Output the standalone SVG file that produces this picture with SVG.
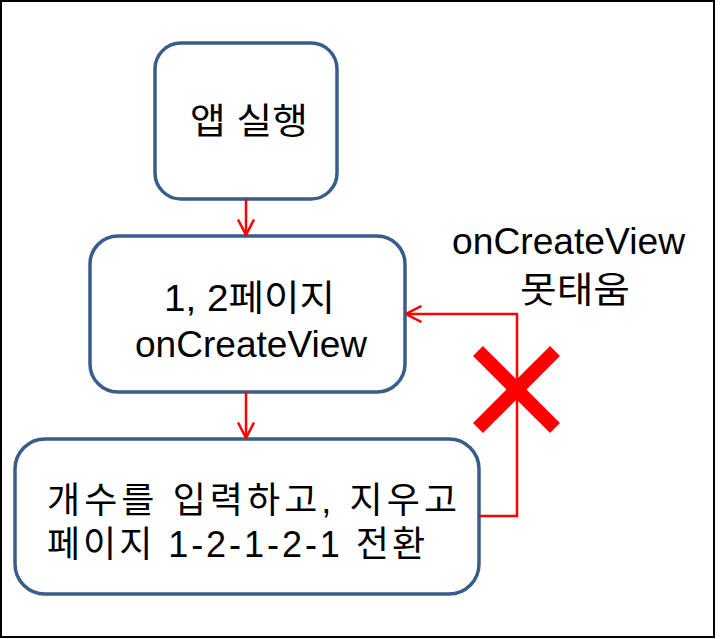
<svg xmlns="http://www.w3.org/2000/svg" width="720" height="639" viewBox="0 0 720 639">
<style>
.box{fill:#fff;stroke:#385D8A;stroke-width:3.5}
.t{font-family:"Liberation Sans","Noto Sans CJK KR",sans-serif;font-size:36px;fill:#000}
.c{fill:none;stroke:#FF0000;stroke-width:2.5}
</style>
<defs>
<marker id="ah" viewBox="0 0 18 18" refX="16.5" refY="9" markerWidth="18" markerHeight="18" markerUnits="userSpaceOnUse" orient="auto">
<path d="M1,1 L16.5,9 L1,17" fill="none" stroke="#FF0000" stroke-width="2.5"/>
</marker>
</defs>
<rect x="0" y="0" width="720" height="639" fill="#fff"/>
<rect x="1" y="1" width="713" height="636" fill="none" stroke="#000" stroke-width="2"/>
<g id="n1">
<rect class="box" x="155" y="43" width="182" height="156" rx="26"/>
<text class="t" x="190" y="134" textLength="118" lengthAdjust="spacingAndGlyphs">앱 실행</text>
</g>
<g id="n2">
<rect class="box" x="90" y="236" width="315" height="156" rx="28"/>
<text class="t" x="164" y="311" textLength="171" lengthAdjust="spacingAndGlyphs">1, 2페이지</text>
<text class="t" x="135" y="357" textLength="232" lengthAdjust="spacingAndGlyphs">onCreateView</text>
</g>
<g id="n3">
<rect class="box" x="15" y="439" width="464" height="155" rx="30"/>
<text class="t" x="47" y="513" textLength="410" lengthAdjust="spacing">개수를 입력하고, 지우고</text>
<text class="t" x="47" y="557" textLength="378" lengthAdjust="spacing">페이지 1-2-1-2-1 전환</text>
</g>
<g id="label">
<text class="t" x="452" y="254" textLength="233" lengthAdjust="spacingAndGlyphs">onCreateView</text>
<text class="t" x="520" y="303" textLength="110" lengthAdjust="spacingAndGlyphs">못태움</text>
</g>
<g id="connectors">
<line class="c" x1="246" y1="199" x2="246" y2="235" marker-end="url(#ah)"/>
<line class="c" x1="246" y1="392" x2="246" y2="438" marker-end="url(#ah)"/>
<polyline class="c" points="479,516 517,516 517,314 406,314" marker-end="url(#ah)"/>
</g>
<g id="xmark" stroke="#FF0000" stroke-width="14">
<line x1="478" y1="351" x2="555" y2="428"/>
<line x1="555" y1="351" x2="478" y2="428"/>
</g>
</svg>
